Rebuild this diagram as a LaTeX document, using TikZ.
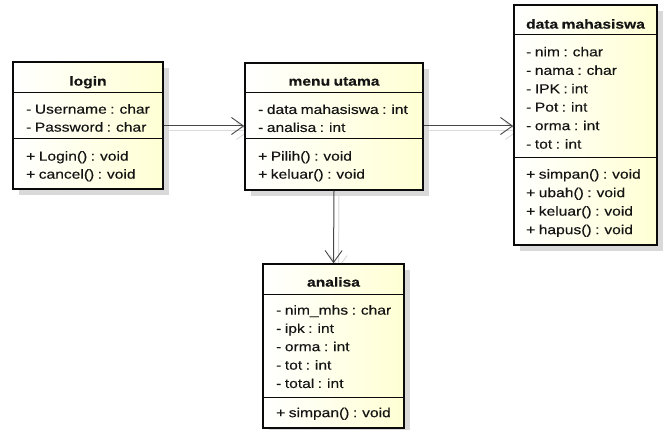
\documentclass[tikz,border=0pt]{standalone}
\usepackage{fontspec}
\setmainfont[FakeStretch=1.2, WordSpace=0.8, FakeBold=0.25]{Liberation Sans}
\usetikzlibrary{arrows.meta,shadows,backgrounds}
\definecolor{umlfill}{RGB}{255,255,212}
\definecolor{umlline}{RGB}{10,10,10}
\definecolor{assocline}{RGB}{70,70,70}
\definecolor{ghost}{RGB}{218,218,218}
\definecolor{umltext}{RGB}{20,20,20}

\begin{document}
\begin{tikzpicture}[x=1pt,y=-1pt,
  classbox/.style={draw=umlline, line width=1.5pt, rectangle, inner sep=0pt,
    left color=white, right color=umlfill,
    drop shadow={shadow xshift=6pt, shadow yshift=-6pt, fill=black!15, opacity=1}},
  sepline/.style={draw=umlline, line width=0.9pt},
  member/.style={anchor=west, inner sep=0pt, text height=9.3pt, text depth=0pt,
    text=umltext, font=\fontsize{13}{15}\selectfont},
  title/.style={anchor=center, inner sep=0pt, text height=9.3pt, text depth=0pt,
    text=umltext, font=\fontsize{13}{15}\selectfont\bfseries},
  assoc/.style={draw=assocline, line width=1pt,
    -{Straight Barb[length=12pt, width=17pt, line width=0.9pt]}},
  assocghost/.style={draw=ghost, line width=1pt,
    -{Straight Barb[length=12pt, width=17pt, line width=0.9pt]},
    transform canvas={xshift=5pt, yshift=-5pt}}
]
\useasboundingbox (0,0) rectangle (669,430);

% ---------- login ----------
\node[classbox, minimum width=150pt, minimum height=127pt] (login) at (88,125.5) {};
\draw[sepline] (login.west |- 0,92) -- (login.east |- 0,92);
\draw[sepline] (login.west |- 0,138) -- (login.east |- 0,138);
\node[title]  (login-t)  at (88,81) {login};
\node[member] (login-a1) at (26,109) {- Username : char};
\node[member] (login-a2) at (26,127) {- Password : char};
\node[member] (login-m1) at (26,156) {+ Login() : void};
\node[member] (login-m2) at (26,174) {+ cancel() : void};

% ---------- menu utama ----------
\node[classbox, minimum width=178pt, minimum height=127pt] (menu) at (334,126.5) {};
\draw[sepline] (menu.west |- 0,92) -- (menu.east |- 0,92);
\draw[sepline] (menu.west |- 0,138) -- (menu.east |- 0,138);
\node[title]  (menu-t)  at (334,81) {menu utama};
\node[member] (menu-a1) at (258,109.3) {- data mahasiswa : int};
\node[member] (menu-a2) at (258,127.3) {- analisa : int};
\node[member] (menu-m1) at (258,156) {+ Pilih() : void};
\node[member] (menu-m2) at (258,174) {+ keluar() : void};

% ---------- data mahasiswa ----------
\node[classbox, minimum width=143pt, minimum height=240pt] (data) at (585.5,125) {};
\draw[sepline] (data.west |- 0,34) -- (data.east |- 0,34);
\draw[sepline] (data.west |- 0,157.5) -- (data.east |- 0,157.5);
\node[title]  (data-t)  at (585.5,24) {data mahasiswa};
\node[member] (data-a1) at (526,51.7) {- nim : char};
\node[member] (data-a2) at (526,70.2) {- nama : char};
\node[member] (data-a3) at (526,88.6) {- IPK : int};
\node[member] (data-a4) at (526,107) {- Pot : int};
\node[member] (data-a5) at (526,125.5) {- orma : int};
\node[member] (data-a6) at (526,144) {- tot : int};
\node[member] (data-m1) at (526,174) {+ simpan() : void};
\node[member] (data-m2) at (526,192.5) {+ ubah() : void};
\node[member] (data-m3) at (526,211) {+ keluar() : void};
\node[member] (data-m4) at (526,229.5) {+ hapus() : void};

% ---------- analisa ----------
\node[classbox, minimum width=141pt, minimum height=164pt] (anl) at (333.5,346) {};
\draw[sepline] (anl.west |- 0,294) -- (anl.east |- 0,294);
\draw[sepline] (anl.west |- 0,397) -- (anl.east |- 0,397);
\node[title]  (anl-t)  at (333.5,282) {analisa};
\node[member] (anl-a1) at (276,310) {- nim\_mhs : char};
\node[member] (anl-a2) at (276,328.3) {- ipk : int};
\node[member] (anl-a3) at (276,346.5) {- orma : int};
\node[member] (anl-a4) at (276,365) {- tot : int};
\node[member] (anl-a5) at (276,383.3) {- total : int};
\node[member] (anl-m1) at (276,412.5) {+ simpan() : void};

% ---------- associations ----------
\begin{scope}[on background layer]
  \draw[assocghost] (login.east |- 0,126) -- (menu.west |- 0,126);
  \draw[assocghost] (menu.east |- 0,126) -- (data.west |- 0,126);
  \draw[assocghost] (menu.south) -- (anl.north);
\end{scope}
\draw[assoc] (login.east |- 0,126) -- (menu.west |- 0,126);
\draw[assoc] (menu.east |- 0,126) -- (data.west |- 0,126);
\draw[assoc] (menu.south) -- (anl.north);
\end{tikzpicture}
\end{document}
